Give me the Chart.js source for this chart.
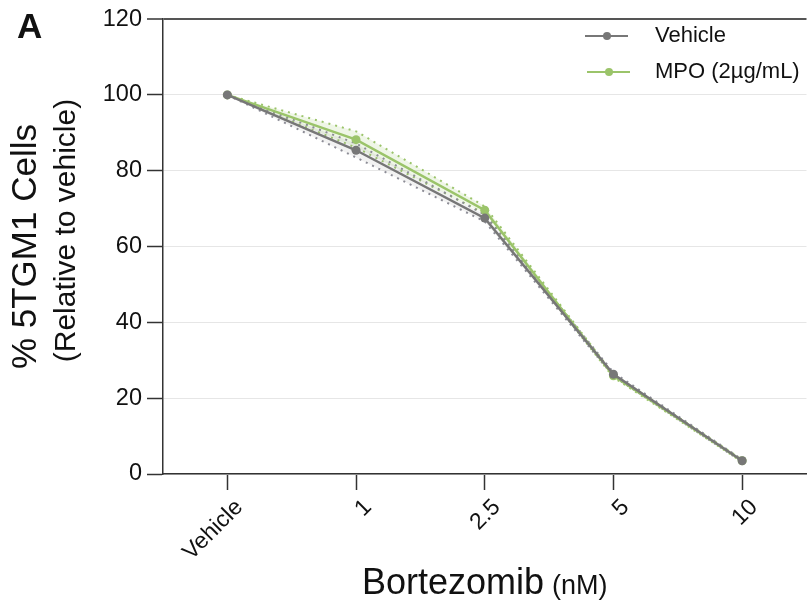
<!DOCTYPE html>
<html>
<head>
<meta charset="utf-8">
<script src="https://cdn.jsdelivr.net/npm/chart.js@4.4.1/dist/chart.umd.min.js"></script>
<style>
  html, body { margin: 0; padding: 0; background: #fff; }
  #wrap { position: relative; width: 811px; height: 602px; }
</style>
</head>
<body>
<div id="wrap"><canvas id="doseChart"></canvas></div>
<script>
  // Bortezomib dose response, % of vehicle
  const doses = ['Vehicle', '1', '2.5', '5', '10'];
  const yTicks = [0, 20, 40, 60, 80, 100, 120];

  const vehicleMean = [100, 85.4, 67.5, 26.3, 3.5];
  const vehicleUpper = [100, 87.2, 68.4, 26.8, 3.8];
  const vehicleLower = [100, 83.5, 66.6, 25.8, 3.2];

  const mpoMean = [100, 88.2, 69.6, 25.9, 3.5];
  const mpoUpper = [100, 90.4, 70.6, 26.3, 3.8];
  const mpoLower = [100, 86.1, 68.7, 25.5, 3.2];

  const GREY = '#777777';
  const GREEN = '#9bc46a';
  const FONT = '"Liberation Sans", Arial, sans-serif';

  // Mean line with a round marker
  const meanSet = (label, data, color) => ({
    label: label,
    data: data,
    borderColor: color,
    backgroundColor: color,
    borderWidth: 2.5,
    pointRadius: 4.5,
    pointHoverRadius: 4.5,
    pointBackgroundColor: color,
    pointBorderWidth: 0,
    fill: false,
    tension: 0
  });

  // Dotted error bound; the upper one fills down to the lower one
  const boundSet = (label, data, color, fillTo, shade) => ({
    label: label,
    data: data,
    borderColor: color,
    borderWidth: 2,
    borderDash: [2, 5],
    pointRadius: 0,
    pointHoverRadius: 0,
    fill: fillTo,
    backgroundColor: shade,
    tension: 0
  });

  const decorations = {
    id: 'decorations',
    afterDraw(chart) {
      const { ctx, chartArea } = chart;
      ctx.save();
      ctx.fillStyle = '#111';

      // panel letter
      ctx.font = 'bold 35px ' + FONT;
      ctx.textAlign = 'left';
      ctx.textBaseline = 'alphabetic';
      ctx.fillText('A', 17, 38);

      // y axis title, two lines
      const midY = (chartArea.top + chartArea.bottom) / 2;
      ctx.save();
      ctx.translate(26, midY);
      ctx.rotate(-Math.PI / 2);
      ctx.textAlign = 'center';
      ctx.textBaseline = 'middle';
      ctx.font = '35px ' + FONT;
      ctx.fillText('% 5TGM1 Cells', 0, 0);
      ctx.restore();

      ctx.save();
      ctx.translate(67, midY - 16);
      ctx.rotate(-Math.PI / 2);
      ctx.textAlign = 'center';
      ctx.textBaseline = 'middle';
      ctx.font = '30px ' + FONT;
      ctx.fillText('(Relative to vehicle)', 0, 0);
      ctx.restore();

      // x axis title with smaller unit
      ctx.textAlign = 'left';
      ctx.textBaseline = 'alphabetic';
      ctx.font = '36px ' + FONT;
      const main = 'Bortezomib';
      ctx.fillText(main, 362, 594);
      const w = ctx.measureText(main).width;
      ctx.font = '27px ' + FONT;
      ctx.fillText('(nM)', 362 + w + 8, 594);

      // legend
      const rows = [
        { label: 'Vehicle', color: GREY, y: 36, x0: 585 },
        { label: 'MPO (2µg/mL)', color: GREEN, y: 72, x0: 587 }
      ];
      rows.forEach((r) => {
        ctx.strokeStyle = r.color;
        ctx.lineWidth = 2;
        ctx.beginPath();
        ctx.moveTo(r.x0, r.y);
        ctx.lineTo(r.x0 + 43, r.y);
        ctx.stroke();
        ctx.fillStyle = r.color;
        ctx.beginPath();
        ctx.arc(r.x0 + 22, r.y, 4, 0, Math.PI * 2);
        ctx.fill();
        ctx.fillStyle = '#111';
        ctx.font = '22px ' + FONT;
        ctx.textBaseline = 'middle';
        ctx.fillText(r.label, 655, r.y);
      });
      ctx.restore();
    }
  };

  const ctx = document.getElementById('doseChart');
  new Chart(ctx, {
    type: 'line',
    data: {
      labels: doses,
      datasets: [
        meanSet('Vehicle', vehicleMean, GREY),
        meanSet('MPO (2µg/mL)', mpoMean, GREEN),
        boundSet('Vehicle upper', vehicleUpper, '#8c8c96', '+1', 'rgba(150,150,150,0.12)'),
        boundSet('Vehicle lower', vehicleLower, '#8c8c96', false, 'rgba(0,0,0,0)'),
        boundSet('MPO upper', mpoUpper, GREEN, '+1', 'rgba(155,196,106,0.16)'),
        boundSet('MPO lower', mpoLower, GREEN, false, 'rgba(0,0,0,0)')
      ]
    },
    options: {
      responsive: true,
      maintainAspectRatio: false,
      animation: false,
      layout: { padding: { top: 17, right: 0, left: 0, bottom: 0 } },
      plugins: {
        legend: { display: false },
        tooltip: { enabled: false }
      },
      scales: {
        x: {
          offset: true,
          grid: {
            offset: false,
            drawOnChartArea: false,
            tickColor: '#333',
            tickLength: 16,
            tickWidth: 1.5
          },
          border: { color: '#333', width: 1.5 },
          ticks: {
            minRotation: 45,
            maxRotation: 45,
            padding: 4,
            labelOffset: 12,
            color: '#111',
            font: { family: FONT, size: 23 }
          },
          afterFit(scale) { scale.height = 128; }
        },
        y: {
          min: 0,
          max: 120,
          afterBuildTicks(scale) {
            scale.ticks = yTicks.map(v => ({ value: v }));
          },
          grid: {
            color: (c) => (c.tick && c.tick.value === 120) ? '#555' : '#e6e6e6',
            lineWidth: (c) => (c.tick && c.tick.value === 120) ? 2 : 1,
            tickColor: '#333',
            tickLength: 16,
            tickWidth: 1.5
          },
          border: { color: '#333', width: 1.5 },
          ticks: {
            padding: 5,
            color: '#111',
            font: { family: FONT, size: 23.5 }
          },
          afterFit(scale) { scale.width = 163; }
        }
      }
    },
    plugins: [decorations]
  });
</script>
</body>
</html>
